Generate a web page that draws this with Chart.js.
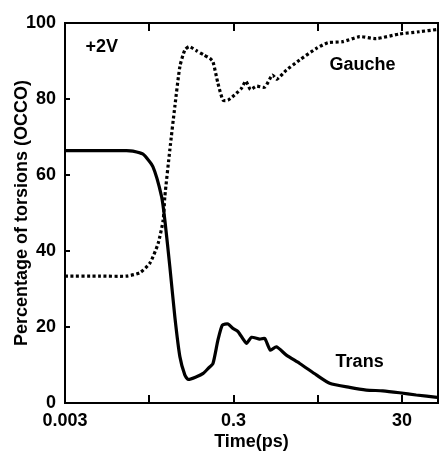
<!DOCTYPE html>
<html>
<head>
<meta charset="utf-8">
<script src="https://cdn.jsdelivr.net/npm/chart.js@4"></script>
<style>
  html, body { margin: 0; padding: 0; background: #fff; }
  #wrap { width: 443px; height: 453px; }
</style>
</head>
<body>
<div id="wrap"><canvas id="torsionChart"></canvas></div>
<script>
// time in ps, percentage of OCCO torsions
const trans_time = [0.003, 0.0078, 0.0161, 0.0192, 0.0252, 0.0331, 0.042, 0.0459, 0.0526, 0.0603, 0.0692, 0.0792, 0.0867, 0.109, 0.131, 0.15, 0.171, 0.196, 0.221, 0.258, 0.296, 0.339, 0.427, 0.489, 0.613, 0.703, 0.82, 0.967, 1.27, 1.83, 2.88, 4.14, 7.15, 11.3, 17.7, 27.9, 44.1, 78];
const trans_pct = [66.4, 66.4, 66.4, 66.3, 65.5, 62.2, 54.3, 48.2, 35.9, 22.7, 12.2, 7.4, 6.2, 6.9, 7.8, 9.1, 10.4, 16.6, 20.5, 20.8, 19.6, 18.8, 15.7, 17.3, 16.8, 17.0, 13.9, 14.8, 12.6, 10.4, 7.4, 5.2, 4.1, 3.4, 3.2, 2.7, 2.1, 1.5];

const gauche_time = [0.003, 0.0078, 0.0161, 0.0232, 0.0305, 0.0382, 0.0439, 0.0459, 0.0526, 0.0603, 0.0692, 0.0792, 0.0891, 0.109, 0.133, 0.157, 0.171, 0.196, 0.225, 0.258, 0.325, 0.372, 0.419, 0.476, 0.56, 0.703, 0.867, 0.98, 1.27, 1.83, 2.88, 3.95, 5.95, 9.38, 14.8, 27.9, 48.2, 78];
const gauche_pct = [33.4, 33.4, 33.4, 34.3, 36.8, 42.0, 48.2, 54.3, 66.6, 78.0, 88.5, 92.9, 93.8, 92.7, 91.6, 90.7, 89.8, 84.1, 79.7, 79.7, 81.5, 82.8, 84.7, 82.5, 83.4, 83.1, 86.3, 85.2, 87.6, 90.3, 93.3, 94.8, 95.1, 96.4, 95.9, 97.1, 97.7, 98.3];

const x_ticks = [0.003, 0.03, 0.3, 3, 30];
const x_labels = ['0.003', '', '0.3', '', '30'];
const y_ticks = [0, 20, 40, 60, 80, 100];

// text inside the plot, placed in data units
const notes = [
  { text: '+2V', x: 0.0082, y: 93.7 },
  { text: 'Gauche', x: 10.2, y: 88.9 },
  { text: 'Trans', x: 9.4, y: 10.8 }
];

const FAMILY = '"Liberation Sans", Arial, sans-serif';
const FONT = 'bold 18px ' + FAMILY;

const framePlugin = {
  id: 'frame',
  afterDatasetsDraw(chart) {
    const ctx = chart.ctx;
    const a = chart.chartArea;
    const xs = chart.scales.x, ys = chart.scales.y;
    ctx.save();
    ctx.strokeStyle = '#000';
    ctx.lineWidth = 2;
    ctx.strokeRect(a.left, a.top, a.right - a.left, a.bottom - a.top);
    ctx.beginPath();
    x_ticks.forEach(v => {
      const px = Math.round(xs.getPixelForValue(v));
      ctx.moveTo(px, a.bottom); ctx.lineTo(px, a.bottom - 8);
      ctx.moveTo(px, a.top); ctx.lineTo(px, a.top + 8);
    });
    y_ticks.forEach(v => {
      const py = Math.round(ys.getPixelForValue(v));
      ctx.moveTo(a.left, py); ctx.lineTo(a.left + 5, py);
    });
    ctx.stroke();
    ctx.fillStyle = '#000';
    ctx.font = FONT;
    ctx.textAlign = 'center';
    ctx.textBaseline = 'middle';
    notes.forEach(n => {
      ctx.fillText(n.text, xs.getPixelForValue(n.x), ys.getPixelForValue(n.y));
    });
    ctx.restore();
  }
};

new Chart(document.getElementById('torsionChart'), {
  type: 'line',
  data: {
    datasets: [
      {
        label: 'Trans',
        data: trans_time.map((t, i) => ({ x: t, y: trans_pct[i] })),
        borderColor: '#000',
        borderWidth: 3.2,
        pointRadius: 0,
        tension: 0.2
      },
      {
        label: 'Gauche',
        data: gauche_time.map((t, i) => ({ x: t, y: gauche_pct[i] })),
        borderColor: '#000',
        borderWidth: 3.2,
        borderDash: [3, 2.5],
        pointRadius: 0,
        tension: 0.2
      }
    ]
  },
  options: {
    animation: false,
    responsive: true,
    maintainAspectRatio: false,
    layout: { padding: { top: 23, right: 5, left: 0, bottom: 0 } },
    plugins: {
      legend: { display: false },
      tooltip: { enabled: false }
    },
    scales: {
      x: {
        type: 'logarithmic',
        min: 0.003,
        max: 80,
        afterBuildTicks: axis => { axis.ticks = x_ticks.map(v => ({ value: v })); },
        afterFit: axis => { axis.height = 50; },
        grid: { display: false, drawTicks: false },
        border: { display: false },
        ticks: {
          color: '#000',
          font: { family: FAMILY, size: 18, weight: 'bold' },
          padding: 7,
          maxRotation: 0,
          autoSkip: false,
          callback: (v, i) => x_labels[i]
        },
        title: {
          display: true,
          text: 'Time(ps)',
          color: '#000',
          font: { family: FAMILY, size: 18, weight: 'bold' },
          padding: { top: 0, bottom: 0 }
        }
      },
      y: {
        min: 0,
        max: 100,
        afterFit: axis => { axis.width = 65; },
        grid: { display: false, drawTicks: false },
        border: { display: false },
        ticks: {
          stepSize: 20,
          color: '#000',
          font: { family: FAMILY, size: 18, weight: 'bold' },
          padding: 9
        },
        title: {
          display: true,
          text: 'Percentage of torsions (OCCO)',
          color: '#000',
          font: { family: FAMILY, size: 18, weight: 'bold' },
          padding: { top: 11, bottom: 0 }
        }
      }
    }
  },
  plugins: [framePlugin]
});
</script>
</body>
</html>
